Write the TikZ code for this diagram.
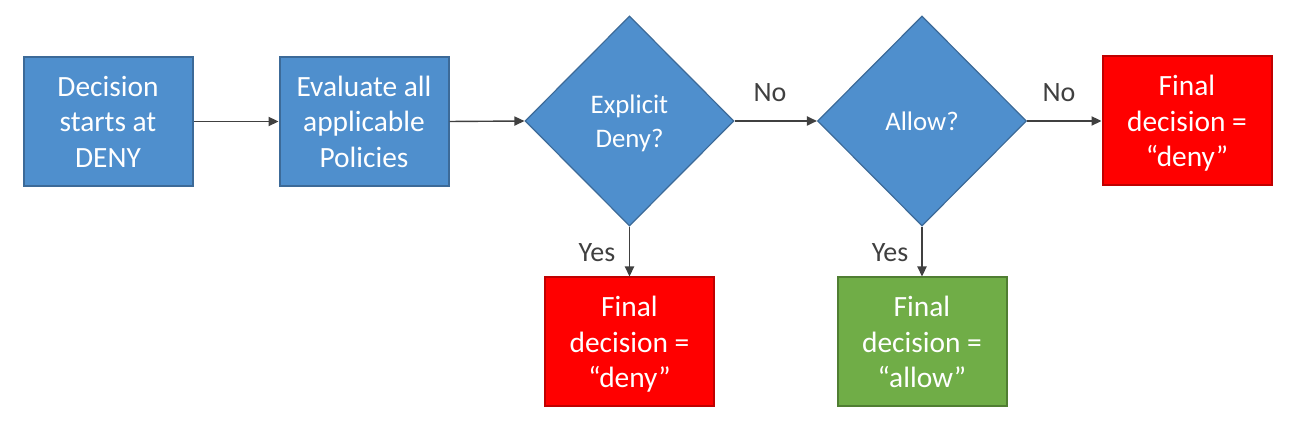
\documentclass[tikz,border=0pt]{standalone}
\usepackage{fontspec}
\setmainfont{Carlito}
\usetikzlibrary{shapes.geometric,arrows.meta}
\definecolor{bluefill}{HTML}{4F8FCD}
\definecolor{blueline}{HTML}{3C6A98}
\definecolor{redfill}{HTML}{FF0000}
\definecolor{redline}{HTML}{C00000}
\definecolor{greenfill}{HTML}{70AD47}
\definecolor{greenline}{HTML}{507E32}
\definecolor{arrowgray}{HTML}{404040}
\begin{document}
\begin{tikzpicture}[x=0.5pt,y=-0.5pt,
  boxbase/.style={rectangle,line width=1pt,text=white,align=center,
    minimum width=84.5pt,minimum height=64.5pt,inner sep=0pt,text depth=0pt,
    font=\fontsize{14.7}{17.8}\selectfont},
  bluebox/.style={boxbase,fill=bluefill,draw=blueline},
  redbox/.style={boxbase,fill=redfill,draw=redline},
  greenbox/.style={boxbase,fill=greenfill,draw=greenline},
  decision/.style={diamond,fill=bluefill,draw=blueline,line width=0.6pt,
    text=white,align=center,minimum width=104.5pt,minimum height=105pt,
    inner sep=0pt,text depth=0pt,font=\fontsize{13.4}{16.8}\selectfont},
  conn/.style={draw=arrowgray,line width=0.7pt,
    -{Triangle[length=5pt,width=4.6pt]}},
  lbl/.style={text=arrowgray,anchor=base,inner sep=0pt,
    font=\fontsize{14}{17}\selectfont}]
\useasboundingbox (0,0) rectangle (1306,431);
\node[bluebox] (start) at (108,121.5) {Decision\\starts at\\DENY};
\node[bluebox] (eval) at (364,121.5) {Evaluate all\\applicable\\Policies};
\node[decision] (d1) at (629.5,121) {Explicit\\Deny?};
\node[decision] (d2) at (922,121) {Allow?};
\node[redbox] (denyr) at (1187,121) {Final\\decision =\\“deny”};
\node[redbox] (denyb) at (629.5,342) {Final\\decision =\\“deny”};
\node[greenbox] (allow) at (922,342) {Final\\decision =\\“allow”};
\draw[conn] (start.east) -- (eval.west);
\draw[conn] (eval.east) -- (d1.west);
\draw[conn] (d1.east) -- (d2.west);
\draw[conn] (d2.east) -- (denyr.west);
\draw[conn] (d1.south) -- (denyb.north);
\draw[conn] (d2.south) -- (allow.north);
\node[lbl] (no1) at (770,102) {No};
\node[lbl] (no2) at (1059,102) {No};
\node[lbl] (yes1) at (597,262) {Yes};
\node[lbl] (yes2) at (890,262) {Yes};
\end{tikzpicture}
\end{document}
